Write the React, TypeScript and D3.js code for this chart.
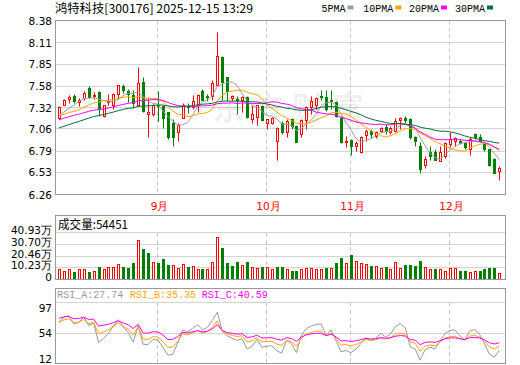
import React from "react";
import * as d3 from "d3";

// ---------- data ----------
const titleText = "鸿特科技[300176] 2025-12-15 13:29";
const monthLabels = ["9月", "10月", "11月", "12月"];
const monthStartIdx = [20, 42, 59, 79];
const priceTicks = [8.38, 8.11, 7.85, 7.58, 7.32, 7.06, 6.79, 6.53, 6.26];
const volTicks = [0, 10.23, 20.46, 30.7, 40.93];
const volTickLabels = ["0", "10.23万", "20.46万", "30.70万", "40.93万"];
const rsiTicks = [12, 54, 97];
const maPeriods = [5, 10, 20, 30];
const maNames = ["5PMA", "10PMA", "20PMA", "30PMA"];
const rsiPeriods = [6, 12, 24];
const rsiNames = ["RSI_A", "RSI_B", "RSI_C"];
const rsiLastValues = [27.74, 35.35, 40.59];
const lastVolume = 54451;

// closes before the first visible day (needed for the moving averages)
const priorCloses = [
  6.78, 6.82, 6.8, 6.85, 6.88, 6.84, 6.9, 6.93, 6.95, 6.95,
  7.02, 7.08, 7.05, 7.12, 7.15, 7.1, 7.18, 7.16, 7.2, 7.14,
  7.25, 7.2, 7.28, 7.22, 7.15, 7.18, 7.22, 7.2, 7.18,
];

const opens = [
  7.18, 7.35, 7.42, 7.46, 7.38, 7.43, 7.55, 7.46, 7.5, 7.21,
  7.38, 7.35, 7.48, 7.58, 7.51, 7.47, 7.35, 7.63, 7.24, 7.24,
  7.35, 7.33, 7.26, 7.13, 7.01, 7.19, 7.33, 7.32, 7.35, 7.52,
  7.46, 7.46, 7.59, 7.93, 7.69, 7.43, 7.42, 7.41, 7.44, 7.17,
  7.2, 7.33, 7.12, 7.13, 6.91, 7.12, 7.01, 7.17, 7.09, 6.99,
  7.16, 7.32, 7.35, 7.46, 7.44, 7.41, 7.38, 7.19, 6.89, 6.92,
  6.84, 6.77, 6.98, 7.03, 6.97, 7.03, 7.08, 7.02, 7.03, 7.16,
  7.19, 7.17, 6.95, 6.85, 6.61, 6.77, 6.77, 6.66, 6.72, 6.87,
  6.9, 6.91, 6.88, 6.81, 6.99, 6.95, 6.88, 6.81, 6.69, 6.54,
];
const highs = [
  7.33, 7.42, 7.47, 7.48, 7.43, 7.52, 7.57, 7.5, 7.51, 7.35,
  7.48, 7.49, 7.59, 7.6, 7.54, 7.53, 7.81, 7.69, 7.44, 7.36,
  7.51, 7.35, 7.26, 7.17, 7.12, 7.37, 7.37, 7.47, 7.48, 7.54,
  7.48, 7.65, 8.23, 7.94, 7.69, 7.47, 7.46, 7.46, 7.45, 7.34,
  7.35, 7.35, 7.17, 7.2, 7.08, 7.15, 7.17, 7.19, 7.1, 7.17,
  7.33, 7.46, 7.44, 7.53, 7.53, 7.53, 7.39, 7.21, 6.97, 6.93,
  6.91, 6.97, 7.05, 7.05, 7.03, 7.08, 7.11, 7.09, 7.19, 7.2,
  7.21, 7.18, 6.97, 6.89, 6.72, 6.85, 6.81, 6.84, 6.89, 7.01,
  6.96, 6.93, 6.89, 6.95, 7.0, 6.99, 6.89, 6.81, 6.7, 6.6,
];
const lows = [
  7.17, 7.34, 7.37, 7.37, 7.33, 7.41, 7.43, 7.42, 7.21, 7.2,
  7.35, 7.3, 7.42, 7.49, 7.38, 7.31, 7.33, 7.26, 6.96, 7.21,
  7.15, 7.07, 6.93, 6.84, 6.91, 7.18, 7.25, 7.3, 7.26, 7.4,
  7.39, 7.4, 7.58, 7.41, 7.39, 7.39, 7.24, 7.26, 7.18, 7.13,
  7.1, 7.15, 7.05, 7.11, 6.68, 6.99, 6.96, 7.05, 6.89, 6.96,
  7.05, 7.24, 7.3, 7.4, 7.27, 7.29, 7.2, 6.88, 6.83, 6.74,
  6.79, 6.76, 6.91, 6.94, 6.94, 7.01, 6.99, 6.99, 7.02, 7.05,
  7.13, 6.93, 6.85, 6.52, 6.58, 6.68, 6.68, 6.66, 6.7, 6.83,
  6.84, 6.87, 6.81, 6.73, 6.93, 6.89, 6.79, 6.6, 6.51, 6.43,
];
const closes = [
  7.32, 7.41, 7.44, 7.39, 7.41, 7.49, 7.44, 7.47, 7.3, 7.34,
  7.39, 7.48, 7.59, 7.53, 7.48, 7.37, 7.61, 7.27, 7.26, 7.34,
  7.33, 7.19, 6.95, 6.96, 7.1, 7.35, 7.32, 7.39, 7.47, 7.41,
  7.45, 7.61, 7.94, 7.63, 7.51, 7.46, 7.41, 7.44, 7.2, 7.23,
  7.34, 7.16, 7.17, 7.18, 7.07, 7.01, 7.15, 7.09, 6.89, 7.16,
  7.32, 7.39, 7.43, 7.44, 7.29, 7.39, 7.21, 6.89, 6.91, 6.84,
  6.88, 6.95, 7.03, 6.99, 7.01, 7.07, 7.03, 7.06, 7.15, 7.19,
  7.16, 6.95, 6.91, 6.56, 6.69, 6.72, 6.68, 6.77, 6.88, 6.93,
  6.94, 6.88, 6.83, 6.93, 6.95, 6.91, 6.81, 6.61, 6.52, 6.58,
];
// volume in 万 (10,000 shares)
const volumes = [
  8.3, 7.4, 8.3, 6.0, 8.3, 8.3, 6.0, 6.6, 10.1, 8.3,
  10.7, 10.1, 12.7, 10.1, 9.5, 13.6, 33.7, 25.8, 22.6, 15.0,
  13.8, 17.1, 11.8, 11.8, 9.2, 12.7, 10.1, 10.9, 8.9, 8.6,
  8.3, 14.7, 36.9, 26.7, 13.8, 11.2, 14.7, 11.8, 14.7, 10.7,
  9.5, 10.7, 10.1, 8.3, 10.1, 10.1, 8.3, 6.6, 7.4, 8.9,
  9.8, 9.8, 8.9, 8.3, 9.2, 9.2, 13.6, 18.5, 13.6, 20.6,
  15.3, 13.6, 12.7, 10.9, 10.9, 9.2, 10.1, 8.3, 14.4, 9.2,
  11.8, 11.8, 10.9, 15.3, 10.1, 8.3, 8.3, 8.3, 7.4, 9.2,
  9.2, 7.4, 6.6, 5.7, 7.4, 6.6, 8.3, 9.2, 9.2, 5.45,
];

// ---------- styles ----------
const RED = "#ff0000";
const GREEN = "#008000";
const maColors = ["#a0a0a0", "#ffa500", "#ff00ff", "#00703c"];
const rsiColors = ["#999999", "#ffa500", "#ff00ff"];
const GRID = "#d4d4d4";
const BORDER = "#999999";
const NUM_FONT = "DejaVu Sans, Verdana, sans-serif";
const MONO = "Liberation Mono, DejaVu Sans Mono, monospace";
const CJK = "Noto Sans CJK SC, sans-serif";

const L = 55.5;
const R = 505.5;
const crisp = (v: number) => Math.round(v - 0.5) + 0.5;

export default function App() {
  const n = closes.length;
  const x = d3.scaleLinear().domain([0, n - 1]).range([59, 499.3]);
  const cx = (i: number) => Math.round(x(i)) + 0.5;
  const yP = d3.scaleLinear().domain([6.26, 8.38]).range([194.5, 20.5]);
  const yV = d3.scaleLinear().domain([0, 40.93]).range([279.5, 232.5]);
  const yR = d3.scaleLinear().domain([12, 97]).range([363.5, 302.5]);

  const full = priorCloses.concat(closes);
  const off = priorCloses.length;

  const maSeries = maPeriods.map((p) =>
    closes.map((_, i) => d3.mean(full.slice(i + off - p + 1, i + off + 1)) as number)
  );

  const rsiSeries = rsiPeriods.map((p) => {
    let up: number | null = null;
    let all = 0;
    const out: number[] = [];
    for (let k = 1; k < full.length; k++) {
      const d = full[k] - full[k - 1];
      const u = Math.max(d, 0);
      const a = Math.abs(d);
      if (up === null) {
        up = u;
        all = a;
      } else {
        up = (u + (p - 1) * up) / p;
        all = (a + (p - 1) * all) / p;
      }
      if (k >= off) out.push(all === 0 ? 50 : (up / all) * 100);
    }
    return out;
  });

  const mainLine = d3
    .line<number>()
    .x((_, i) => x(i))
    .y((d) => yP(d));
  const rsiLine = d3
    .line<number>()
    .x((_, i) => x(i))
    .y((d) => yR(d));

  const legendX = [321.5, 363.3, 409, 455];

  return (
    <svg
      width={520}
      height={365}
      style={{ position: "absolute", left: 0, top: 0, background: "#fff" }}
      xmlns="http://www.w3.org/2000/svg"
    >
      <defs>
        <clipPath id="mainClip">
          <rect x={L} y={20.5} width={R - L} height={174} />
        </clipPath>
        <clipPath id="rsiClip">
          <rect x={L} y={302} width={R - L} height={61.5} />
        </clipPath>
      </defs>
      <rect x={0} y={0} width={520} height={365} fill="#fff" />

      {/* title */}
      <text
        x={55}
        y={13}
        fontFamily={CJK}
        fontSize={12}
        fill="#000"
        textLength={198}
        lengthAdjust="spacingAndGlyphs"
      >
        {titleText}
      </text>
      {maNames.map((nm, k) => (
        <g key={nm}>
          <text x={legendX[k]} y={12.3} fontFamily={MONO} fontSize={10} fill="#000">
            {nm}
          </text>
          <rect
            x={legendX[k] + nm.length * 6 + 2}
            y={5.5}
            width={6}
            height={4}
            fill={maColors[k]}
          />
        </g>
      ))}

      {/* ===== main panel ===== */}
      {priceTicks.map((t) => (
        <g key={t}>
          <line x1={L} x2={R} y1={crisp(yP(t))} y2={crisp(yP(t))} stroke={GRID} />
          <text
            x={52}
            y={yP(t) + 4}
            textAnchor="end"
            fontFamily={NUM_FONT}
            fontSize={10.5}
            fill="#000"
          >
            {t.toFixed(2)}
          </text>
        </g>
      ))}
      {monthStartIdx.map((mi, k) => (
        <g key={mi}>
          <line
            x1={cx(mi) - 1}
            x2={cx(mi) - 1}
            y1={20.5}
            y2={194.5}
            stroke="#c8c8c8"
            strokeDasharray="4 3"
          />
          <text
            x={cx(mi) + 1}
            y={210}
            textAnchor="middle"
            fontFamily={NUM_FONT}
            fontSize={10.5}
            fill={RED}
          >
            {monthLabels[k]}
          </text>
        </g>
      ))}
      {/* watermark */}
      <text
        x={292}
        y={120}
        textAnchor="middle"
        fontFamily={CJK}
        fontWeight={700}
        fontSize={32}
        fill="#000"
        fillOpacity={0.06}
        letterSpacing={8}
      >
        东方财富
      </text>

      <g clipPath="url(#mainClip)">
        {closes.map((c, i) => {
          const o = opens[i];
          const up = c >= o;
          const X = cx(i);
          const top = crisp(yP(Math.max(o, c)));
          let bot = crisp(yP(Math.min(o, c)));
          if (bot - top < 1) bot = top + 1;
          const col = up ? RED : GREEN;
          return (
            <g key={i}>
              <line x1={X} x2={X} y1={crisp(yP(highs[i]))} y2={crisp(yP(lows[i]))} stroke={col} />
              {up ? (
                <rect x={X - 1} y={top} width={2} height={bot - top} fill="#fff" stroke={col} />
              ) : (
                <rect x={X - 1.5} y={top - 0.5} width={3} height={bot - top + 1} fill={col} />
              )}
            </g>
          );
        })}
        {maSeries.map((s, k) => (
          <path key={k} d={mainLine(s) || ""} fill="none" stroke={maColors[k]} strokeWidth={1} />
        ))}
      </g>
      <rect x={L} y={20.5} width={R - L} height={174} fill="none" stroke={BORDER} />

      {/* ===== volume panel ===== */}
      {volTicks.map((t, k) => (
        <g key={t}>
          {t > 0 && (
            <line x1={L} x2={R} y1={crisp(yV(t))} y2={crisp(yV(t))} stroke={GRID} />
          )}
          <text
            x={52}
            y={yV(t) + 1.5}
            textAnchor="end"
            fontFamily={NUM_FONT}
            fontSize={10.5}
            fill="#000"
          >
            {volTickLabels[k]}
          </text>
        </g>
      ))}
      {monthStartIdx.map((mi) => (
        <line
          key={mi}
          x1={cx(mi) - 1}
          x2={cx(mi) - 1}
          y1={233}
          y2={279}
          stroke="#c8c8c8"
          strokeDasharray="4 3"
        />
      ))}
      {volumes.map((v, i) => {
        const prev = i === 0 ? priorCloses[priorCloses.length - 1] : closes[i - 1];
        const up = closes[i] >= prev;
        const X = cx(i);
        const top = crisp(yV(v));
        const bot = 279.5;
        return up ? (
          <rect key={i} x={X - 1} y={top} width={2} height={bot - top} fill="#fff" stroke={RED} />
        ) : (
          <rect key={i} x={X - 1.5} y={top - 0.5} width={3} height={bot - top + 0.5} fill={GREEN} />
        );
      })}
      <rect x={L} y={215.5} width={R - L} height={64} fill="none" stroke={BORDER} />
      <text
        x={58}
        y={229}
        fontFamily={CJK}
        fontSize={12}
        fill="#000"
        textLength={70}
        lengthAdjust="spacingAndGlyphs"
      >
        {"成交量:" + lastVolume}
      </text>

      {/* ===== RSI panel ===== */}
      {rsiTicks.map((t) => (
        <g key={t}>
          {t > 12 && <line x1={L} x2={R} y1={crisp(yR(t))} y2={crisp(yR(t))} stroke={GRID} />}
          <text
            x={52}
            y={Math.min(363, Math.max(311.7, yR(t) + 3.5))}
            textAnchor="end"
            fontFamily={NUM_FONT}
            fontSize={10.5}
            fill="#000"
          >
            {t}
          </text>
        </g>
      ))}
      {monthStartIdx.map((mi) => (
        <line
          key={mi}
          x1={cx(mi) - 1}
          x2={cx(mi) - 1}
          y1={303}
          y2={363}
          stroke="#c8c8c8"
          strokeDasharray="4 3"
        />
      ))}
      <g clipPath="url(#rsiClip)">
        {rsiSeries.map((s, k) => (
          <path key={k} d={rsiLine(s) || ""} fill="none" stroke={rsiColors[k]} strokeWidth={1} />
        ))}
      </g>
      <rect x={L} y={288.5} width={R - L} height={75} fill="none" stroke={BORDER} />
      {rsiNames.map((nm, k) => (
        <text
          key={nm}
          x={[57.3, 130, 201.7][k]}
          y={298.3}
          fontFamily={MONO}
          fontSize={10}
          fill={rsiColors[k]}
        >
          {nm + ":" + rsiLastValues[k].toFixed(2)}
        </text>
      ))}
    </svg>
  );
}
